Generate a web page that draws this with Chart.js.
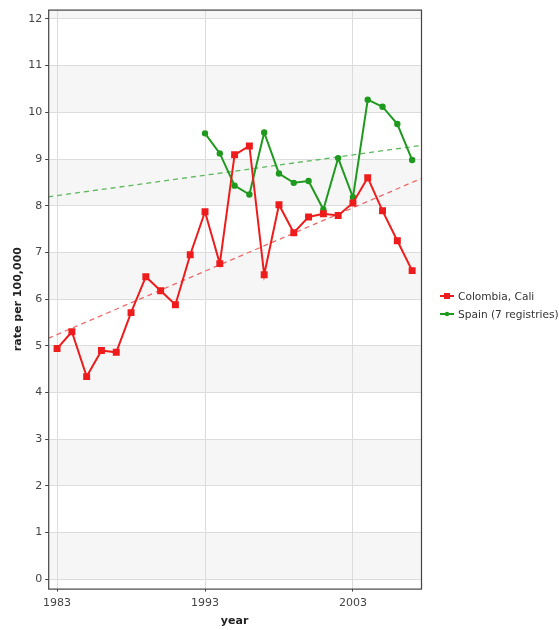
<!DOCTYPE html>
<html><head><meta charset="utf-8">
<script src="https://cdn.jsdelivr.net/npm/chart.js@4"></script>
<style>html,body{margin:0;padding:0;background:#fff;}#wrap{width:559px;height:630px;position:relative;}</style>
</head><body><div id="wrap"><canvas id="c" width="559" height="630"></canvas></div>
<script>
const caliYears = [1983,1984,1985,1986,1987,1988,1989,1990,1991,1992,1993,1994,1995,1996,1997,1998,1999,2000,2001,2002,2003,2004,2005,2006,2007];
const caliValues = [4.94,5.30,4.34,4.90,4.86,5.71,6.48,6.18,5.88,6.95,7.87,6.76,9.09,9.28,6.52,8.02,7.42,7.76,7.83,7.79,8.06,8.60,7.89,7.25,6.61];
const spainYears = [1993,1994,1995,1996,1997,1998,1999,2000,2001,2002,2003,2004,2005,2006,2007];
const spainValues = [9.55,9.12,8.43,8.24,9.57,8.69,8.49,8.53,7.92,9.02,8.18,10.27,10.12,9.75,8.98];
const trendYears = [1982.4,2007.6];
const caliTrend = [5.16,8.58];
const spainTrend = [8.19,9.29];
const xTicks = [1983,1993,2003];
const yTicks = [0,1,2,3,4,5,6,7,8,9,10,11,12];
const seriesNames = ['Colombia, Cali','Spain (7 registries)'];

const RED = '#ee1c1c', GREEN = '#1f9a1f';
const pts = (xs, ys) => xs.map((x,i)=>({x:x,y:ys[i]}));

const bgPlugin = {
  id:'bg',
  beforeDraw(chart){
    const {ctx, chartArea:a, scales:{x,y}} = chart;
    ctx.save();
    ctx.fillStyle='#f6f6f6';
    for (let v=0; v<=12; v+=2){
      const top = y.getPixelForValue(Math.min(v+1, y.max));
      const bot = y.getPixelForValue(v);
      ctx.fillRect(a.left, top, a.right-a.left, bot-top);
    }
    ctx.restore();
  },
  afterDraw(chart){
    const {ctx, chartArea:a} = chart;
    ctx.save();
    ctx.strokeStyle='#444'; ctx.lineWidth=1.2;
    ctx.strokeRect(a.left+0.5, a.top+0.5, a.right-a.left, a.bottom-a.top);
    const items = [{c:RED, s:'rect'},{c:GREEN, s:'circle'}];
    items.forEach((it,i)=>{
      const yy = 296 + i*18;
      const x0 = a.right + 19;
      ctx.strokeStyle=it.c; ctx.lineWidth=2;
      ctx.beginPath(); ctx.moveTo(x0,yy); ctx.lineTo(x0+14,yy); ctx.stroke();
      ctx.fillStyle=it.c;
      if (it.s==='rect') ctx.fillRect(x0+4,yy-3,6,6);
      else { ctx.beginPath(); ctx.arc(x0+7,yy,2.2,0,Math.PI*2); ctx.fill(); }
      ctx.fillStyle='#333'; ctx.font='10.6px "DejaVu Sans"'; ctx.textBaseline='middle'; ctx.textAlign='left';
      ctx.fillText(seriesNames[i], x0+18, yy+1);
    });
    ctx.restore();
  }
};

new Chart(document.getElementById('c'), {
  type:'line',
  data:{datasets:[
    {label:seriesNames[0], data:pts(caliYears,caliValues), borderColor:RED, backgroundColor:RED, borderWidth:2, pointStyle:'rect', pointRadius:3.5, pointHoverRadius:3.5, tension:0},
    {label:seriesNames[1], data:pts(spainYears,spainValues), borderColor:GREEN, backgroundColor:GREEN, borderWidth:2, pointStyle:'circle', pointRadius:2.2, pointHoverRadius:2.2, tension:0},
    {label:'cali trend', data:pts(trendYears,caliTrend), borderColor:'#ee6a6a', borderWidth:1.3, borderDash:[5,4], pointRadius:0},
    {label:'spain trend', data:pts(trendYears,spainTrend), borderColor:'#5cb85c', borderWidth:1.3, borderDash:[5,4], pointRadius:0}
  ]},
  options:{
    responsive:false, animation:false, devicePixelRatio:1,
    layout:{padding:{left:12,top:8,right:138,bottom:2}},
    plugins:{legend:{display:false}, tooltip:{enabled:false}},
    scales:{
      x:{type:'linear', min:1982.4, max:2007.6,
        afterBuildTicks(ax){ ax.ticks = xTicks.map(v=>({value:v})); },
        grid:{color:'#dcdcdc', tickColor:'#444', tickLength:3, drawTicks:true},
        border:{display:false},
        ticks:{color:'#444', font:{family:'DejaVu Sans', size:11}, padding:4.5, maxRotation:0, callback:v=>String(v)},
        title:{display:true, text:'year', color:'#222', font:{family:'DejaVu Sans', size:11, weight:'bold'}, padding:{top:1,bottom:0}}
      },
      y:{min:-0.2, max:12.2,
        afterBuildTicks(ax){ ax.ticks = yTicks.map(v=>({value:v})); },
        grid:{color:'#dcdcdc', tickColor:'#444', tickLength:3, drawTicks:true},
        border:{display:false},
        ticks:{color:'#444', font:{family:'DejaVu Sans', size:11}, padding:3},
        title:{display:true, text:'rate per 100,000', color:'#222', font:{family:'DejaVu Sans', size:11, weight:'bold'}, padding:{top:0,bottom:0}}
      }
    }
  },
  plugins:[bgPlugin]
});
</script></body></html>
